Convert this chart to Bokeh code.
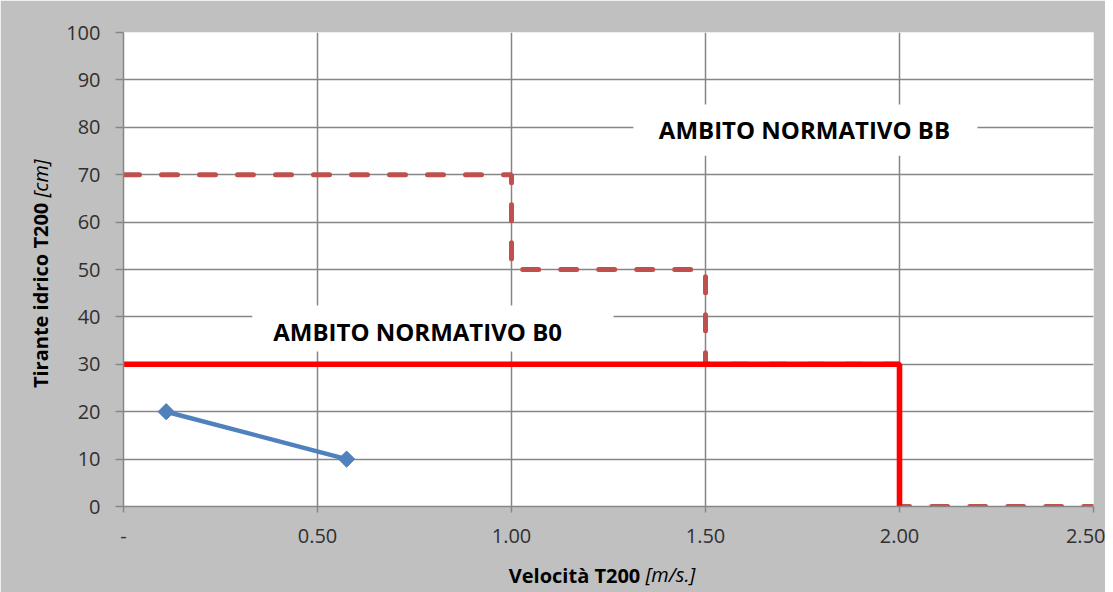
import numpy as np
from bokeh.plotting import figure
from bokeh.models import (FixedTicker, Label, BoxAnnotation, Range1d)
from bokeh.embed import file_html
from bokeh.resources import INLINE

# ---- data ----
vel_points = [0.11, 0.575]
depth_points = [20, 10]

b0_x = [0, 2, 2]
b0_y = [30, 30, 0]

bb_x = [0, 1, 1, 1.5, 1.5, 2, 2, 2.5]
bb_y = [70, 70, 50, 50, 30, 30, 0, 0]

x_ticks = [0, 0.5, 1.0, 1.5, 2.0, 2.5]
x_tick_labels = ["-", "0.50", "1.00", "1.50", "2.00", "2.50"]
y_ticks = [0, 10, 20, 30, 40, 50, 60, 70, 80, 90, 100]

FONT = "Open Sans"
GRID = "#868686"
BG = "#C0C0C0"

p = figure(frame_width=970, frame_height=474, width=1105, height=584,
           min_border_left=123, min_border_right=12, min_border_top=32, min_border_bottom=78,
           x_range=Range1d(0, 2.5), y_range=Range1d(0, 100),
           output_backend="svg", toolbar_location=None)
p.background_fill_color = "white"
p.border_fill_color = BG
p.outline_line_color = None

p.xaxis.ticker = FixedTicker(ticks=x_ticks)
p.xaxis.major_label_overrides = {t: l for t, l in zip(x_ticks, x_tick_labels)}
p.yaxis.ticker = FixedTicker(ticks=y_ticks)
for ax in (p.xaxis, p.yaxis):
    ax.axis_line_color = GRID
    ax.axis_line_width = 1.5
    ax.major_tick_line_color = GRID
    ax.major_tick_line_width = 1.5
    ax.minor_tick_line_color = None
    ax.major_tick_in = 0
    ax.major_label_text_font = FONT
    ax.major_label_text_font_size = "20px"
    ax.major_label_text_color = "#303030"
p.yaxis.major_tick_out = 8
p.yaxis.major_label_standoff = 15
p.xaxis.major_tick_out = 6
p.xaxis.major_label_standoff = 16

p.xgrid.ticker = FixedTicker(ticks=x_ticks)
p.ygrid.ticker = FixedTicker(ticks=y_ticks)
p.grid.grid_line_color = GRID
p.grid.grid_line_width = 1.5

# series
p.line(bb_x, bb_y, line_color="#C0504D", line_width=5, line_dash="16 22", line_cap="round")
p.line(b0_x, b0_y, line_color="#FF0000", line_width=5.6)
p.line(vel_points, depth_points, line_color="#4F81BD", line_width=4.5)
p.scatter(vel_points, depth_points, marker="square", angle=np.pi / 4, size=11.5,
          fill_color="#4F81BD", line_color="#4F81BD")

# text boxes
p.add_layout(BoxAnnotation(left=1.314, right=2.201, bottom=74.0, top=84.8,
                           fill_color="white", fill_alpha=1, line_color=None))
p.add_layout(BoxAnnotation(left=0.332, right=1.263, bottom=32.7, top=42.4,
                           fill_color="white", fill_alpha=1, line_color=None))
p.add_layout(Label(x=1.755, y=79.6, text="AMBITO NORMATIVO BB", text_align="center",
                   text_baseline="middle", text_font=FONT, text_font_style="bold",
                   text_font_size="24px", text_color="black"))
p.add_layout(Label(x=0.758, y=36.9, text="AMBITO NORMATIVO B0", text_align="center",
                   text_baseline="middle", text_font=FONT, text_font_style="bold",
                   text_font_size="24px", text_color="black"))

# axis titles (bold + italic parts) in side panels
p.add_layout(Label(x=522, y=-3, x_units="screen", y_units="screen", text="Velocità T200 ",
                   text_align="right", text_baseline="middle", text_font=FONT,
                   text_font_style="bold", text_font_size="20px", text_color="black"), "below")
p.add_layout(Label(x=522, y=25, x_units="screen", y_units="screen", text="[m/s.]",
                   text_align="left", text_baseline="middle", text_font=FONT,
                   text_font_style="italic", text_font_size="20px", text_color="black"), "below")
p.add_layout(Label(x=4, y=309, x_units="screen", y_units="screen", text="Tirante idrico T200 ",
                   angle=np.pi / 2, text_align="right", text_baseline="middle", text_font=FONT,
                   text_font_style="bold", text_font_size="20px", text_color="black"), "left")
p.add_layout(Label(x=31, y=309, x_units="screen", y_units="screen", text="[cm]",
                   angle=np.pi / 2, text_align="left", text_baseline="middle", text_font=FONT,
                   text_font_style="italic", text_font_size="20px", text_color="black"), "left")

open("out.html", "w").write(file_html(p, INLINE))
